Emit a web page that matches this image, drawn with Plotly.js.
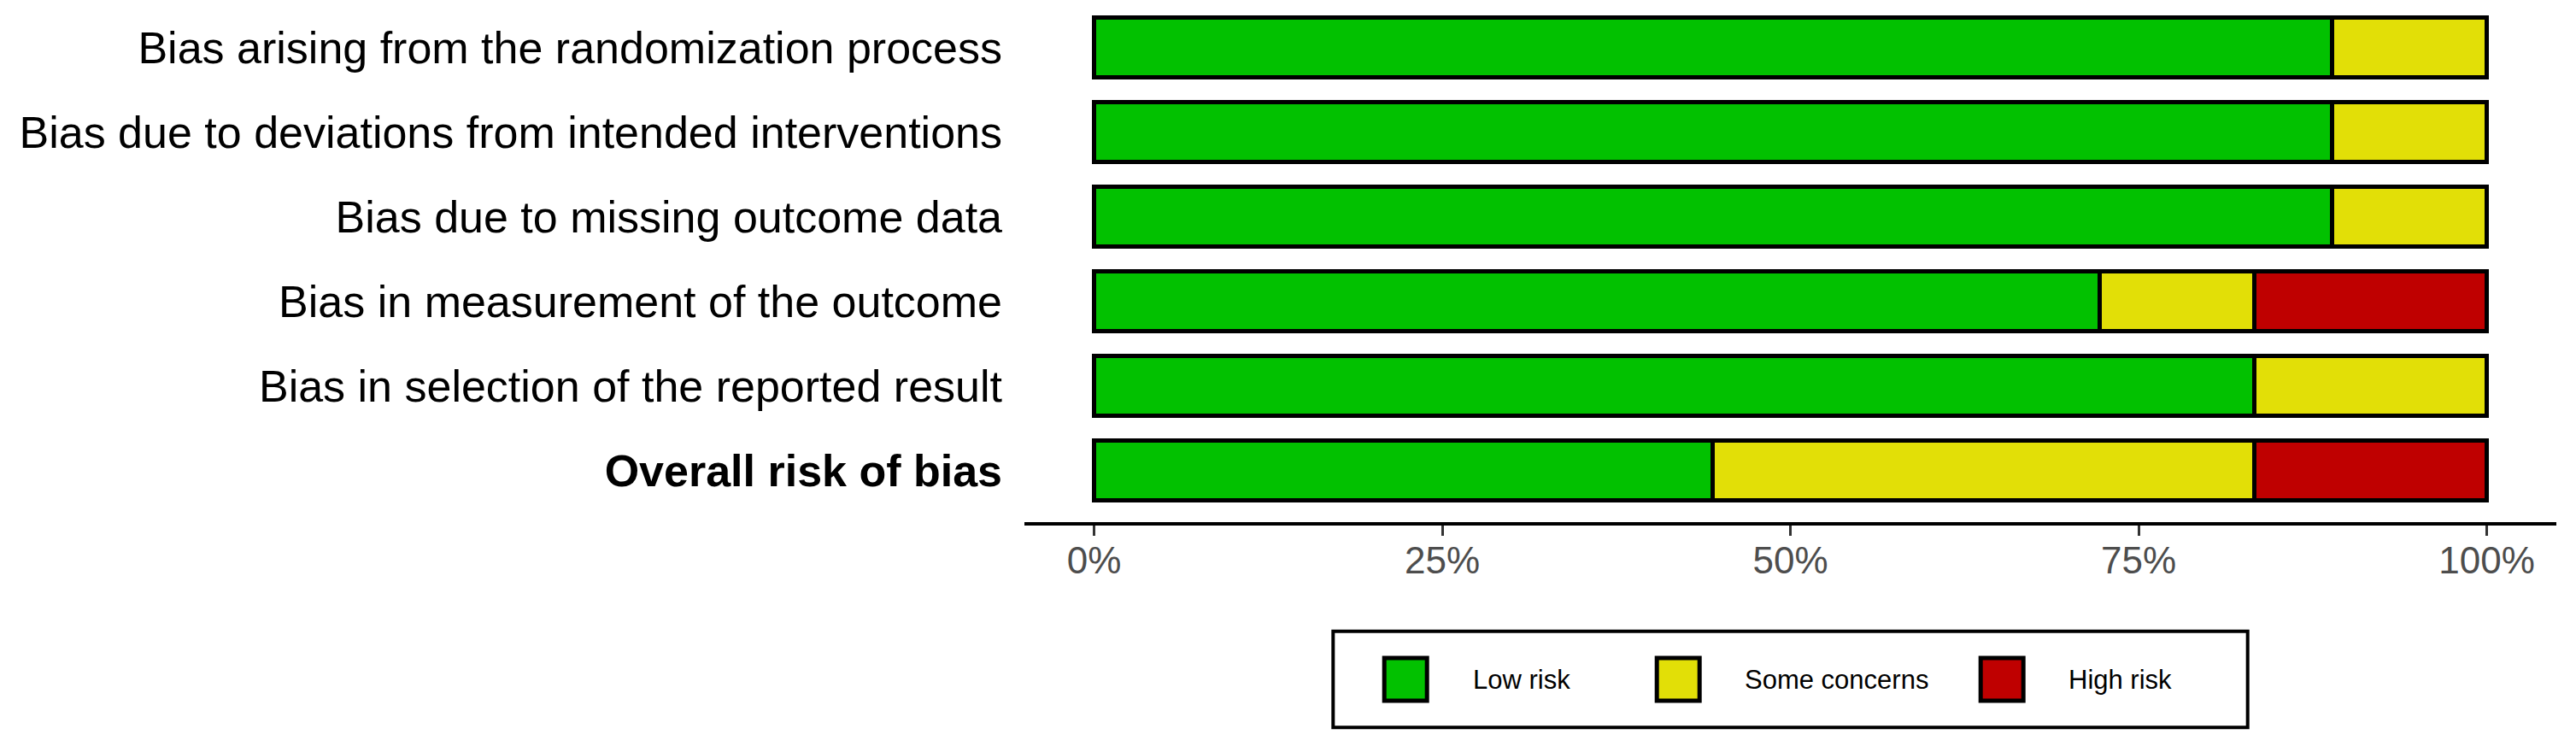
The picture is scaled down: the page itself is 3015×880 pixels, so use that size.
<!DOCTYPE html>
<html>
<head>
<meta charset="utf-8">
<script src="https://cdn.plot.ly/plotly-3.0.1.min.js"></script>
<style>
  html, body { margin: 0; padding: 0; background: #ffffff; }
  #chart { width: 3015px; height: 880px; }
</style>
</head>
<body>
<div id="chart"></div>
<script>
// ---- Data ----
const domains = [
  'Bias arising from the randomization process',
  'Bias due to deviations from intended interventions',
  'Bias due to missing outcome data',
  'Bias in measurement of the outcome',
  'Bias in selection of the reported result',
  'Overall risk of bias'
];
const domainLabels = [
  'Bias arising from the randomization process',
  'Bias due to deviations from intended interventions',
  'Bias due to missing outcome data',
  'Bias in measurement of the outcome',
  'Bias in selection of the reported result',
  '<b>Overall risk of bias</b>'
];
const lowRisk      = [88.9, 88.9, 88.9, 72.2, 83.3, 44.4];
const someConcerns = [11.1, 11.1, 11.1, 11.1, 16.7, 38.9];
const highRisk     = [0, 0, 0, 16.7, 0, 16.7];
const judgements   = ['Low risk', 'Some concerns', 'High risk'];
const judgementColours = ['#02C100', '#E2DF07', '#BF0000'];
const xTickVals = [0, 25, 50, 75, 100];
const xTickText = ['0%', '25%', '50%', '75%', '100%'];

// ---- Figure geometry ----
const W = 3015, H = 880;
const M = { l: 1199, r: 23, t: 0, b: 269 };
const plotW = W - M.l - M.r;
const plotH = H - M.t - M.b;
const FONT = 'Liberation Sans, Arial, Helvetica, sans-serif';

function px2x(px) { return (px - M.l) / plotW; }
function px2y(py) { return (M.t + plotH - py) / plotH; }

const series = [lowRisk, someConcerns, highRisk];
const traces = series.map((vals, i) => ({
  type: 'bar',
  orientation: 'h',
  name: judgements[i],
  y: domains,
  x: vals.map(v => (v === 0 ? null : v)),
  width: 0.70,
  marker: { color: judgementColours[i], line: { color: '#000000', width: 5 } },
  hoverinfo: 'skip',
  showlegend: false
}));

// ---- Legend drawn as layout shapes + annotations ----
const shapes = [];
const annotations = [];
shapes.push({
  type: 'rect', xref: 'paper', yref: 'paper',
  x0: px2x(1560.3), x1: px2x(2630.7), y0: px2y(738.7), y1: px2y(851.3),
  line: { color: '#000000', width: 4 }, fillcolor: 'rgba(0,0,0,0)'
});
const swatchLeft = [1620.2, 1939.2, 2318.2];
const textLeft = [1721.7, 2039.5, 2419.3];
const swatchSize = 50;
const legendMidY = 795.0;
judgements.forEach((name, i) => {
  shapes.push({
    type: 'rect', xref: 'paper', yref: 'paper',
    x0: px2x(swatchLeft[i]), x1: px2x(swatchLeft[i] + swatchSize),
    y0: px2y(legendMidY - swatchSize / 2), y1: px2y(legendMidY + swatchSize / 2),
    line: { color: '#000000', width: 5 }, fillcolor: judgementColours[i]
  });
  annotations.push({
    xref: 'paper', yref: 'paper',
    x: px2x(textLeft[i]), y: px2y(legendMidY),
    xanchor: 'left', yanchor: 'middle',
    text: name, showarrow: false,
    font: { family: FONT, size: 31, color: '#000000' }
  });
});

const layout = {
  width: W, height: H,
  margin: { l: M.l, r: M.r, t: M.t, b: M.b, pad: 0 },
  paper_bgcolor: '#ffffff', plot_bgcolor: '#ffffff',
  barmode: 'stack',
  showlegend: false,
  font: { family: FONT },
  xaxis: {
    range: [-5, 105],
    tickmode: 'array', tickvals: xTickVals, ticktext: xTickText,
    showline: true, linecolor: '#000000', linewidth: 4,
    ticks: 'outside', ticklen: 12, tickwidth: 3, tickcolor: '#333333',
    ticklabelstandoff: -9,
    tickfont: { family: FONT, size: 44, color: '#4D4D4D' },
    showgrid: false, zeroline: false, fixedrange: true
  },
  yaxis: {
    type: 'category',
    categoryorder: 'array', categoryarray: domains,
    range: [5.611, -0.561],
    tickmode: 'array', tickvals: domains, ticktext: domainLabels,
    showline: false, ticks: '',
    ticklabelstandoff: 25,
    tickfont: { family: FONT, size: 52, color: '#000000' },
    showgrid: false, zeroline: false, fixedrange: true
  },
  shapes: shapes,
  annotations: annotations
};

Plotly.newPlot('chart', traces, layout, { displayModeBar: false, staticPlot: true });
</script>
</body>
</html>
